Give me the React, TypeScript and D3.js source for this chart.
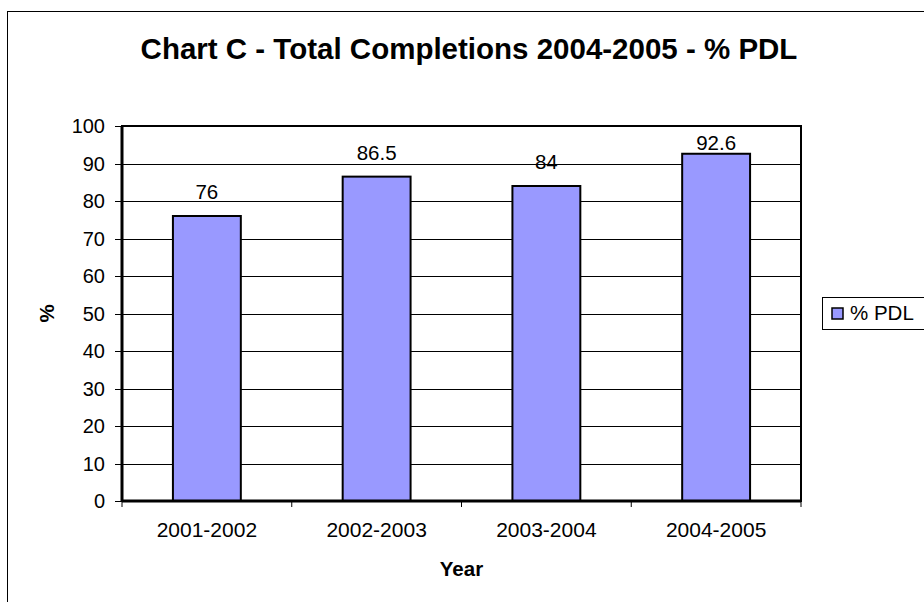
import React from "react";
import * as d3 from "d3";

const categories = ["2001-2002", "2002-2003", "2003-2004", "2004-2005"];
const pdlValues = [76, 86.5, 84, 92.6];
const yTicks = [0, 10, 20, 30, 40, 50, 60, 70, 80, 90, 100];
const seriesName = "% PDL";
const titleText = "Chart C - Total Completions 2004-2005 - % PDL";
const xTitle = "Year";
const yTitle = "%";

const W = 924;
const H = 602;
const plot = { left: 122, top: 126, right: 801, bottom: 501 };
const FONT = "'Liberation Sans', Arial, sans-serif";
const BAR_FILL = "#9999FF";

export default function App() {
  const x = d3
    .scaleBand<string>()
    .domain(categories)
    .range([plot.left, plot.right])
    .padding(0);
  const y = d3.scaleLinear().domain([0, 100]).range([plot.bottom, plot.top]);
  const barW = x.bandwidth() * 0.4;
  const boundaries = categories.map((c) => x(c) as number).concat([plot.right]);

  return (
    <>
      <style>{"body{margin:0}"}</style>
      <svg width={W} height={H} style={{ display: "block", fontFamily: FONT }}>
        <rect x={0} y={0} width={W} height={H} fill="#fff" />
        {/* chart area frame */}
        <rect x={7.5} y={11.5} width={924} height={600} fill="#fff" stroke="#000" strokeWidth={1} />

        <text x={469} y={59} textAnchor="middle" fontSize={29.5} fontWeight="bold" fill="#000">
          {titleText}
        </text>

        {/* gridlines */}
        {yTicks.slice(1, -1).map((t) => (
          <line
            key={"g" + t}
            x1={plot.left}
            x2={plot.right}
            y1={Math.round(y(t)) + 0.5}
            y2={Math.round(y(t)) + 0.5}
            stroke="#000"
            strokeWidth={1}
          />
        ))}

        {/* y ticks and labels */}
        {yTicks.map((t) => (
          <g key={"y" + t}>
            <line x1={115} x2={plot.left} y1={Math.round(y(t)) + 0.5} y2={Math.round(y(t)) + 0.5} stroke="#000" />
            <text x={105} y={y(t) + 7} textAnchor="end" fontSize={20} fill="#000">
              {t}
            </text>
          </g>
        ))}

        {/* x ticks */}
        {boundaries.map((b, i) => (
          <line key={"xt" + i} x1={b} x2={b} y1={plot.bottom} y2={plot.bottom + 6} stroke="#000" />
        ))}

        {/* bars */}
        {categories.map((c, i) => {
          const cx = (x(c) as number) + x.bandwidth() / 2;
          return (
            <rect
              key={"b" + c}
              x={cx - barW / 2}
              y={y(pdlValues[i])}
              width={barW}
              height={plot.bottom - y(pdlValues[i])}
              fill={BAR_FILL}
              stroke="#000"
              strokeWidth={2}
            />
          );
        })}

        {/* plot frame */}
        <rect
          x={plot.left}
          y={plot.top}
          width={plot.right - plot.left}
          height={plot.bottom - plot.top}
          fill="none"
          stroke="#000"
          strokeWidth={2}
        />
        <line x1={plot.left} x2={plot.left} y1={plot.top} y2={plot.bottom} stroke="#000" strokeWidth={3} />
        <line x1={plot.left} x2={plot.right} y1={plot.bottom} y2={plot.bottom} stroke="#000" strokeWidth={3} />

        {/* value labels, kept inside the plot area */}
        {categories.map((c, i) => {
          const cx = (x(c) as number) + x.bandwidth() / 2;
          const by = Math.max(y(pdlValues[i]) - 17, plot.top + 24);
          return (
            <text key={"l" + c} x={cx} y={by} textAnchor="middle" fontSize={20.5} fill="#000">
              {pdlValues[i]}
            </text>
          );
        })}

        {/* x labels */}
        {categories.map((c) => (
          <text
            key={"xl" + c}
            x={(x(c) as number) + x.bandwidth() / 2}
            y={537}
            textAnchor="middle"
            fontSize={21}
            fill="#000"
          >
            {c}
          </text>
        ))}

        <text x={461.5} y={576} textAnchor="middle" fontSize={20.5} fontWeight="bold" fill="#000">
          {xTitle}
        </text>
        <text
          transform={`translate(54, ${(plot.top + plot.bottom) / 2}) rotate(-90)`}
          textAnchor="middle"
          fontSize={20.5}
          fontWeight="bold"
          fill="#000"
        >
          {yTitle}
        </text>

        {/* legend */}
        <rect x={822.5} y={297.5} width={110} height={32} fill="#fff" stroke="#000" strokeWidth={1} />
        <rect x={832} y={308} width={11} height={11} fill={BAR_FILL} stroke="#000" strokeWidth={1.5} />
        <text x={850} y={320} fontSize={20.5} fill="#000">
          {seriesName}
        </text>
      </svg>
    </>
  );
}
